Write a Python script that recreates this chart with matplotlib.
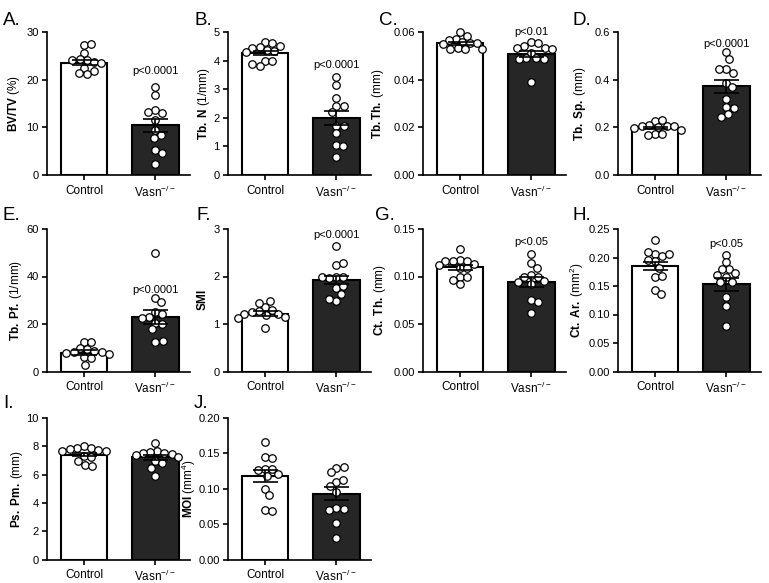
import numpy as np
import matplotlib
matplotlib.use('Agg')
import matplotlib.pyplot as plt

plt.rcParams['font.family'] = ['Liberation Sans', 'DejaVu Sans']
plt.rcParams['mathtext.fontset'] = 'custom'
plt.rcParams['mathtext.rm'] = 'Liberation Sans'
plt.rcParams['mathtext.bf'] = 'Liberation Sans:bold'
plt.rcParams['mathtext.it'] = 'Liberation Sans:italic'

# -------- DATA --------
groups = ['Control', 'Vasn$^{-/-}$']

bvtv_ctrl = [27.2, 27.4, 25.6, 24.2, 24.3, 23.7, 24.1, 22.5, 21.1, 21.4, 21.8, 23.4]
bvtv_vasn = [18.4, 16.7, 13.7, 13.1, 13.3, 11.5, 9.4, 8.4, 7.7, 5.2, 4.7, 2.4]
tbn_ctrl = [4.65, 4.62, 4.47, 4.45, 4.38, 4.35, 4.50, 4.30, 4.00, 3.98, 3.82, 3.87]
tbn_vasn = [3.43, 3.13, 2.69, 2.43, 2.43, 2.22, 1.72, 1.72, 1.46, 1.05, 1.02, 0.64]
tbth_ctrl = [0.0598, 0.0585, 0.0572, 0.0568, 0.0556, 0.0554, 0.0552, 0.0550, 0.0532, 0.0530, 0.0530, 0.0528]
tbth_vasn = [0.0556, 0.0552, 0.0543, 0.0534, 0.0532, 0.0530, 0.0512, 0.0490, 0.0490, 0.0488, 0.0488, 0.0390]
tbsp_ctrl = [0.228, 0.232, 0.210, 0.207, 0.205, 0.205, 0.200, 0.198, 0.190, 0.172, 0.170, 0.168]
tbsp_vasn = [0.515, 0.487, 0.445, 0.430, 0.445, 0.388, 0.370, 0.318, 0.285, 0.283, 0.255, 0.242]
tbpf_ctrl = [12.6, 12.3, 10.0, 9.4, 8.6, 8.4, 8.2, 7.6, 7.4, 5.9, 5.6, 2.8]
tbpf_vasn = [49.7, 30.8, 29.2, 25.0, 24.2, 23.0, 22.6, 20.6, 19.8, 17.8, 12.6, 12.9]
smi_ctrl = [1.36, 1.48, 1.45, 1.30, 1.27, 1.25, 1.22, 1.21, 1.20, 1.15, 1.13, 0.92]
smi_vasn = [2.64, 2.24, 2.28, 2.00, 1.98, 1.97, 2.00, 1.76, 1.80, 1.64, 1.48, 1.52]
ctth_ctrl = [0.1286, 0.1174, 0.1165, 0.1163, 0.1160, 0.1128, 0.1120, 0.1090, 0.1085, 0.1000, 0.0990, 0.0964, 0.0918]
ctth_vasn = [0.1234, 0.1138, 0.1087, 0.1016, 0.1000, 0.0998, 0.0953, 0.0947, 0.0920, 0.0754, 0.0729, 0.0620]
ctar_ctrl = [0.231, 0.206, 0.203, 0.209, 0.207, 0.193, 0.195, 0.182, 0.165, 0.168, 0.143, 0.136]
ctar_vasn = [0.205, 0.192, 0.180, 0.180, 0.172, 0.170, 0.165, 0.157, 0.157, 0.131, 0.115, 0.080]
pspm_ctrl = [8.0, 7.9, 7.85, 7.8, 7.75, 7.7, 7.65, 7.3, 7.25, 6.95, 6.65, 6.6]
pspm_vasn = [8.2, 7.7, 7.6, 7.55, 7.5, 7.45, 7.4, 7.25, 6.95, 6.8, 6.5, 5.9]
moi_ctrl = [0.166, 0.145, 0.143, 0.128, 0.128, 0.127, 0.121, 0.118, 0.100, 0.091, 0.070, 0.068]
moi_vasn = [0.130, 0.131, 0.123, 0.110, 0.112, 0.104, 0.096, 0.073, 0.072, 0.070, 0.052, 0.030]

# bar heights (mean) and SEM as drawn
means = {'A': [23.6, 10.4], 'B': [4.27, 2.0], 'C': [0.0553, 0.0507], 'D': [0.197, 0.372],
         'E': [8.0, 22.8], 'F': [1.22, 1.93], 'G': [0.1095, 0.094], 'H': [0.185, 0.153],
         'I': [7.42, 7.22], 'J': [0.118, 0.093]}
sems = {'A': [0.6, 1.4], 'B': [0.07, 0.25], 'C': [0.0006, 0.0012], 'D': [0.006, 0.028],
        'E': [0.9, 3.0], 'F': [0.05, 0.09], 'G': [0.0027, 0.005], 'H': [0.0075, 0.011],
        'I': [0.13, 0.16], 'J': [0.009, 0.009]}

pvals = {'A': 'p<0.0001', 'B': 'p<0.0001', 'C': 'p<0.01', 'D': 'p<0.0001',
         'E': 'p<0.0001', 'F': 'p<0.0001', 'G': 'p<0.05', 'H': 'p<0.05'}

# letter, bold label, rest of label, data, ymax, tick step, tick format
panels = [
    ('A', 'BV/TV', '(%)', bvtv_ctrl, bvtv_vasn, 30, 10, '%d'),
    ('B', r'Tb.\ N', '(1/mm)', tbn_ctrl, tbn_vasn, 5, 1, '%d'),
    ('C', 'Tb.Th.', '(mm)', tbth_ctrl, tbth_vasn, 0.06, 0.02, '%.2f'),
    ('D', r'Tb.\ Sp.', '(mm)', tbsp_ctrl, tbsp_vasn, 0.6, 0.2, '%.1f'),
    ('E', r'Tb.\ Pf.', '(1/mm)', tbpf_ctrl, tbpf_vasn, 60, 20, '%d'),
    ('F', 'SMI', '', smi_ctrl, smi_vasn, 3, 1, '%d'),
    ('G', r'Ct.\ Th.', '(mm)', ctth_ctrl, ctth_vasn, 0.15, 0.05, '%.2f'),
    ('H', r'Ct.\ Ar.', '(mm$^{2}$)', ctar_ctrl, ctar_vasn, 0.25, 0.05, '%.2f'),
    ('I', r'Ps.\ Pm.', '(mm)', pspm_ctrl, pspm_vasn, 10, 2, '%d'),
    ('J', 'MOI', '(mm$^{4}$)', moi_ctrl, moi_vasn, 0.20, 0.05, '%.2f'),
]

# -------- LAYOUT (pixels) --------
W, H = 769, 583
XLO, XHI = -0.52, 1.49
# spine x, axis end x, ylabel centre x, letter x
cols = {'A': (47, 190, 18, 3), 'E': (47, 190, 20, 3), 'I': (47, 190, 21, 3),
        'B': (228, 371, 208, 194), 'F': (228, 371, 204, 196), 'J': (228, 371, 194, 194),
        'C': (423, 566, 382, 379), 'G': (423, 566, 383, 375),
        'D': (618, 761, 584, 573), 'H': (618, 761, 582, 572)}
rows = {'A': 0, 'B': 0, 'C': 0, 'D': 0, 'E': 1, 'F': 1, 'G': 1, 'H': 1, 'I': 2, 'J': 2}
row_y = [(32, 175, 25), (229, 371.5, 220), (418, 559.5, 408)]  # top, bottom, letter baseline
pval_y = {'A': 21.8, 'B': 3.86, 'C': 0.060, 'D': 0.551, 'E': 34.3, 'F': 2.88,
          'G': 0.136, 'H': 0.223}

barw = 0.66
dot_d = 7.4   # dot spacing in px


def swarm(vals, d):
    # simple beeswarm in pixel space, returns x offsets in px
    y = np.asarray(vals, dtype=float)
    xs = np.zeros(len(y))
    done = []
    for i in range(len(y)):
        cands = [0.0]
        for j in done:
            dy = y[i] - y[j]
            if abs(dy) < d:
                dx = np.sqrt(d * d - dy * dy)
                cands += [xs[j] + dx, xs[j] - dx]
        cands.sort(key=abs)
        for c in cands:
            if all((c - xs[j]) ** 2 + (y[i] - y[j]) ** 2 >= d * d - 1e-6 for j in done):
                xs[i] = c
                break
        done.append(i)
    return xs


fig = plt.figure(figsize=(W / 100, H / 100), dpi=100)

for letter, lab_b, lab_r, ctrl, vasn, ymax, step, fmt in panels:
    x0, x1, labx, letx = cols[letter]
    top, bot, base = row_y[rows[letter]]
    wpx, hpx = x1 - x0, bot - top
    ax = fig.add_axes([x0 / W, 1 - bot / H, wpx / W, hpx / H])
    ax.set_xlim(XLO, XHI)
    ax.set_ylim(0, ymax)
    pxx = wpx / (XHI - XLO)
    pxy = hpx / ymax

    m, s = means[letter], sems[letter]
    ax.bar([0, 1], m, width=barw, color=['white', '#262626'], edgecolor='black',
           linewidth=1.5, zorder=1)
    for k, vals in enumerate([ctrl, vasn]):
        off = swarm(np.array(vals) * pxy, dot_d) / pxx
        ax.plot(k + off, vals, 'o', ms=5.4, mfc='white', mec='black', mew=0.9,
                zorder=3, clip_on=False)
    ax.errorbar([0, 1], m, yerr=s, fmt='none', ecolor='black', elinewidth=1.2,
                capsize=9, capthick=1.2, zorder=4)

    if letter in pvals:
        ax.text(1, pval_y[letter], pvals[letter], ha='center', va='center', fontsize=8)

    for sp in ['top', 'right']:
        ax.spines[sp].set_visible(False)
    for sp in ['left', 'bottom']:
        ax.spines[sp].set_linewidth(1.2)
    ticks = np.arange(0, ymax + step / 2, step)
    ax.set_yticks(ticks)
    ax.set_yticklabels([fmt % t for t in ticks])
    ax.set_xticks([0, 1])
    ax.set_xticklabels(groups)
    ax.tick_params(direction='out', length=3.5, width=1.2, pad=2.5)
    ax.tick_params(axis='y', labelsize=8)
    ax.tick_params(axis='x', labelsize=8.5, pad=3.5)

    ax.set_ylabel(r'$\mathbf{' + lab_b + r'}\;$' + lab_r, fontsize=8.5)
    ax.yaxis.set_label_coords((labx + 4.5 - x0) / wpx, 0.5)

    fig.text(letx / W, 1 - base / H, letter + '.', fontsize=13.5, ha='left', va='baseline')

fig.savefig('out.png', dpi=100)
